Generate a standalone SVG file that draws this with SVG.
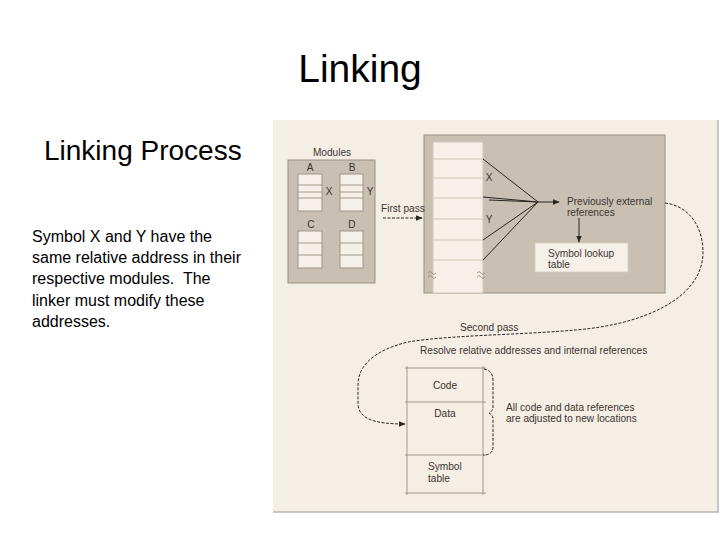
<svg xmlns="http://www.w3.org/2000/svg" width="720" height="540" viewBox="0 0 720 540">
<defs>
<style>
.slide{font-family:"Liberation Sans",Arial,sans-serif;fill:#000}
.lbl{font-family:"Liberation Sans",Arial,sans-serif;font-size:10.1px;fill:#3a3530}
.grey{fill:#c9bfb3;stroke:#9a8f82;stroke-width:1}
.cell{fill:#f6f0e8;stroke:#9a8f82;stroke-width:0.9}
.ln{stroke:#9a8f82;stroke-width:0.9;fill:none}
.thin{stroke:#cdbfb1;stroke-width:0.9;fill:none}
.con{stroke:#2a2622;stroke-width:1;fill:none}
.dash{stroke:#2a2622;stroke-width:1;fill:none;stroke-dasharray:3 1.5}
</style>
<marker id="ah" viewBox="0 0 10 10" refX="9" refY="5" markerWidth="7" markerHeight="7" orient="auto" markerUnits="userSpaceOnUse">
<path d="M0,1 L10,5 L0,9 Z" fill="#2a2622"/>
</marker>
</defs>
<rect x="0" y="0" width="720" height="540" fill="#ffffff"/>
<text class="slide" x="360" y="82" font-size="39" text-anchor="middle">Linking</text>
<text class="slide" x="44" y="160" font-size="28">Linking Process</text>
<g class="slide" font-size="16">
<text x="32" y="242">Symbol X and Y have the</text>
<text x="32" y="263">same relative address in their</text>
<text x="32" y="284" xml:space="preserve">respective modules.  The</text>
<text x="32" y="306">linker must modify these</text>
<text x="32" y="327">addresses.</text>
</g>
<!-- scanned panel -->
<rect x="273" y="120" width="445" height="392" fill="#f5eee5"/>
<path d="M273,512 L718,512 L718,120" fill="none" stroke="#b9b5b0" stroke-width="1.5"/>

<g id="modules">
<rect class="grey" x="288" y="160" width="87" height="123"/>
<text class="lbl" x="332" y="156" text-anchor="middle">Modules</text>
<text class="lbl" x="310" y="171" text-anchor="middle">A</text>
<text class="lbl" x="352" y="171" text-anchor="middle">B</text>
<text class="lbl" x="311" y="228" text-anchor="middle">C</text>
<text class="lbl" x="352" y="228" text-anchor="middle">D</text>
<g id="modA">
<rect class="cell" x="298" y="174" width="24" height="37"/>
<path class="ln" d="M298,185 H322 M298,192 H322 M298,198 H322"/>
<text class="lbl" x="329" y="195" text-anchor="middle">X</text>
</g>
<g id="modB">
<rect class="cell" x="340" y="174" width="23" height="37"/>
<path class="ln" d="M340,185 H363 M340,192 H363 M340,198 H363"/>
<text class="lbl" x="370" y="195" text-anchor="middle">Y</text>
</g>
<g id="modC">
<rect class="cell" x="298" y="231" width="24" height="37"/>
<path class="ln" d="M298,243 H322 M298,255 H322"/>
</g>
<g id="modD">
<rect class="cell" x="340" y="231" width="23" height="37"/>
<path class="ln" d="M340,243 H363 M340,255 H363"/>
</g>
</g>

<g id="firstpass-area">
<rect class="grey" x="424" y="135" width="241" height="158"/>
<g id="stack1">
<path d="M433,293 V142 H483 V293 Z" fill="#f6f0e8" stroke="#d3c6b8" stroke-width="1"/>
<path class="thin" d="M433,159 H483 M433,178 H483 M433,198 H483 M433,219 H483 M433,240 H483 M433,260 H483"/>
<path d="M428,273 q2,-3 4,0 t4,0 M428,277 q2,-3 4,0 t4,0 M477,273 q2,-3 4,0 t4,0 M477,277 q2,-3 4,0 t4,0" fill="none" stroke="#8f8478" stroke-width="0.8"/>
<text class="lbl" x="489" y="181" text-anchor="middle">X</text>
<text class="lbl" x="489" y="223" text-anchor="middle">Y</text>
</g>
<g id="prevext">
<text class="lbl" x="567" y="205">Previously external</text>
<text class="lbl" x="567" y="216">references</text>
</g>
<g id="lookup">
<rect x="535" y="243" width="93" height="29" fill="#f6f0e8" stroke="#d8ccbf" stroke-width="0.8"/>
<text class="lbl" x="548" y="257">Symbol lookup</text>
<text class="lbl" x="548" y="268">table</text>
</g>
</g>

<g id="output">
<path class="ln" d="M405,368 H486 M405,402 H486 M405,455 H486 M405,493 H486 M407,366 V495 M483,366 V495"/>
<text class="lbl" x="445" y="389" text-anchor="middle">Code</text>
<text class="lbl" x="445" y="417" text-anchor="middle">Data</text>
<text class="lbl" x="428" y="470">Symbol</text>
<text class="lbl" x="428" y="482">table</text>
</g>

<g id="labels">
<text class="lbl" x="381" y="212">First pass</text>
<text class="lbl" x="460" y="331">Second pass</text>
<text class="lbl" x="420" y="354">Resolve relative addresses and internal references</text>
<text class="lbl" x="506" y="411">All code and data references</text>
<text class="lbl" x="506" y="422">are adjusted to new locations</text>
</g>

<g id="connectors">
<path class="dash" d="M383,218 H422" marker-end="url(#ah)"/>
<path class="con" d="M483,159 L538,202 M483,197 L538,202 M489,200 L538,202 M483,240 L538,202 M483,260 L538,202"/>
<path class="con" d="M538,202 H559" marker-end="url(#ah)"/>
<path class="con" d="M579,218 V242" marker-end="url(#ah)"/>
<path class="dash" d="M665,203 C690,206 703,228 703,252 C703,300 640,325 575,330 C520,335 450,335 408,342 C375,350 358,365 358,385 L358,403 C358,418 372,424 405,424" marker-end="url(#ah)"/>
<path class="dash" stroke-width="0.9" d="M484,369 C490,370 493,374 493,380 L493,407 C493,410 491,412 489,413 C491,414 493,416 493,419 L493,447 C493,452 490,455 483,455"/>
</g>
</svg>
